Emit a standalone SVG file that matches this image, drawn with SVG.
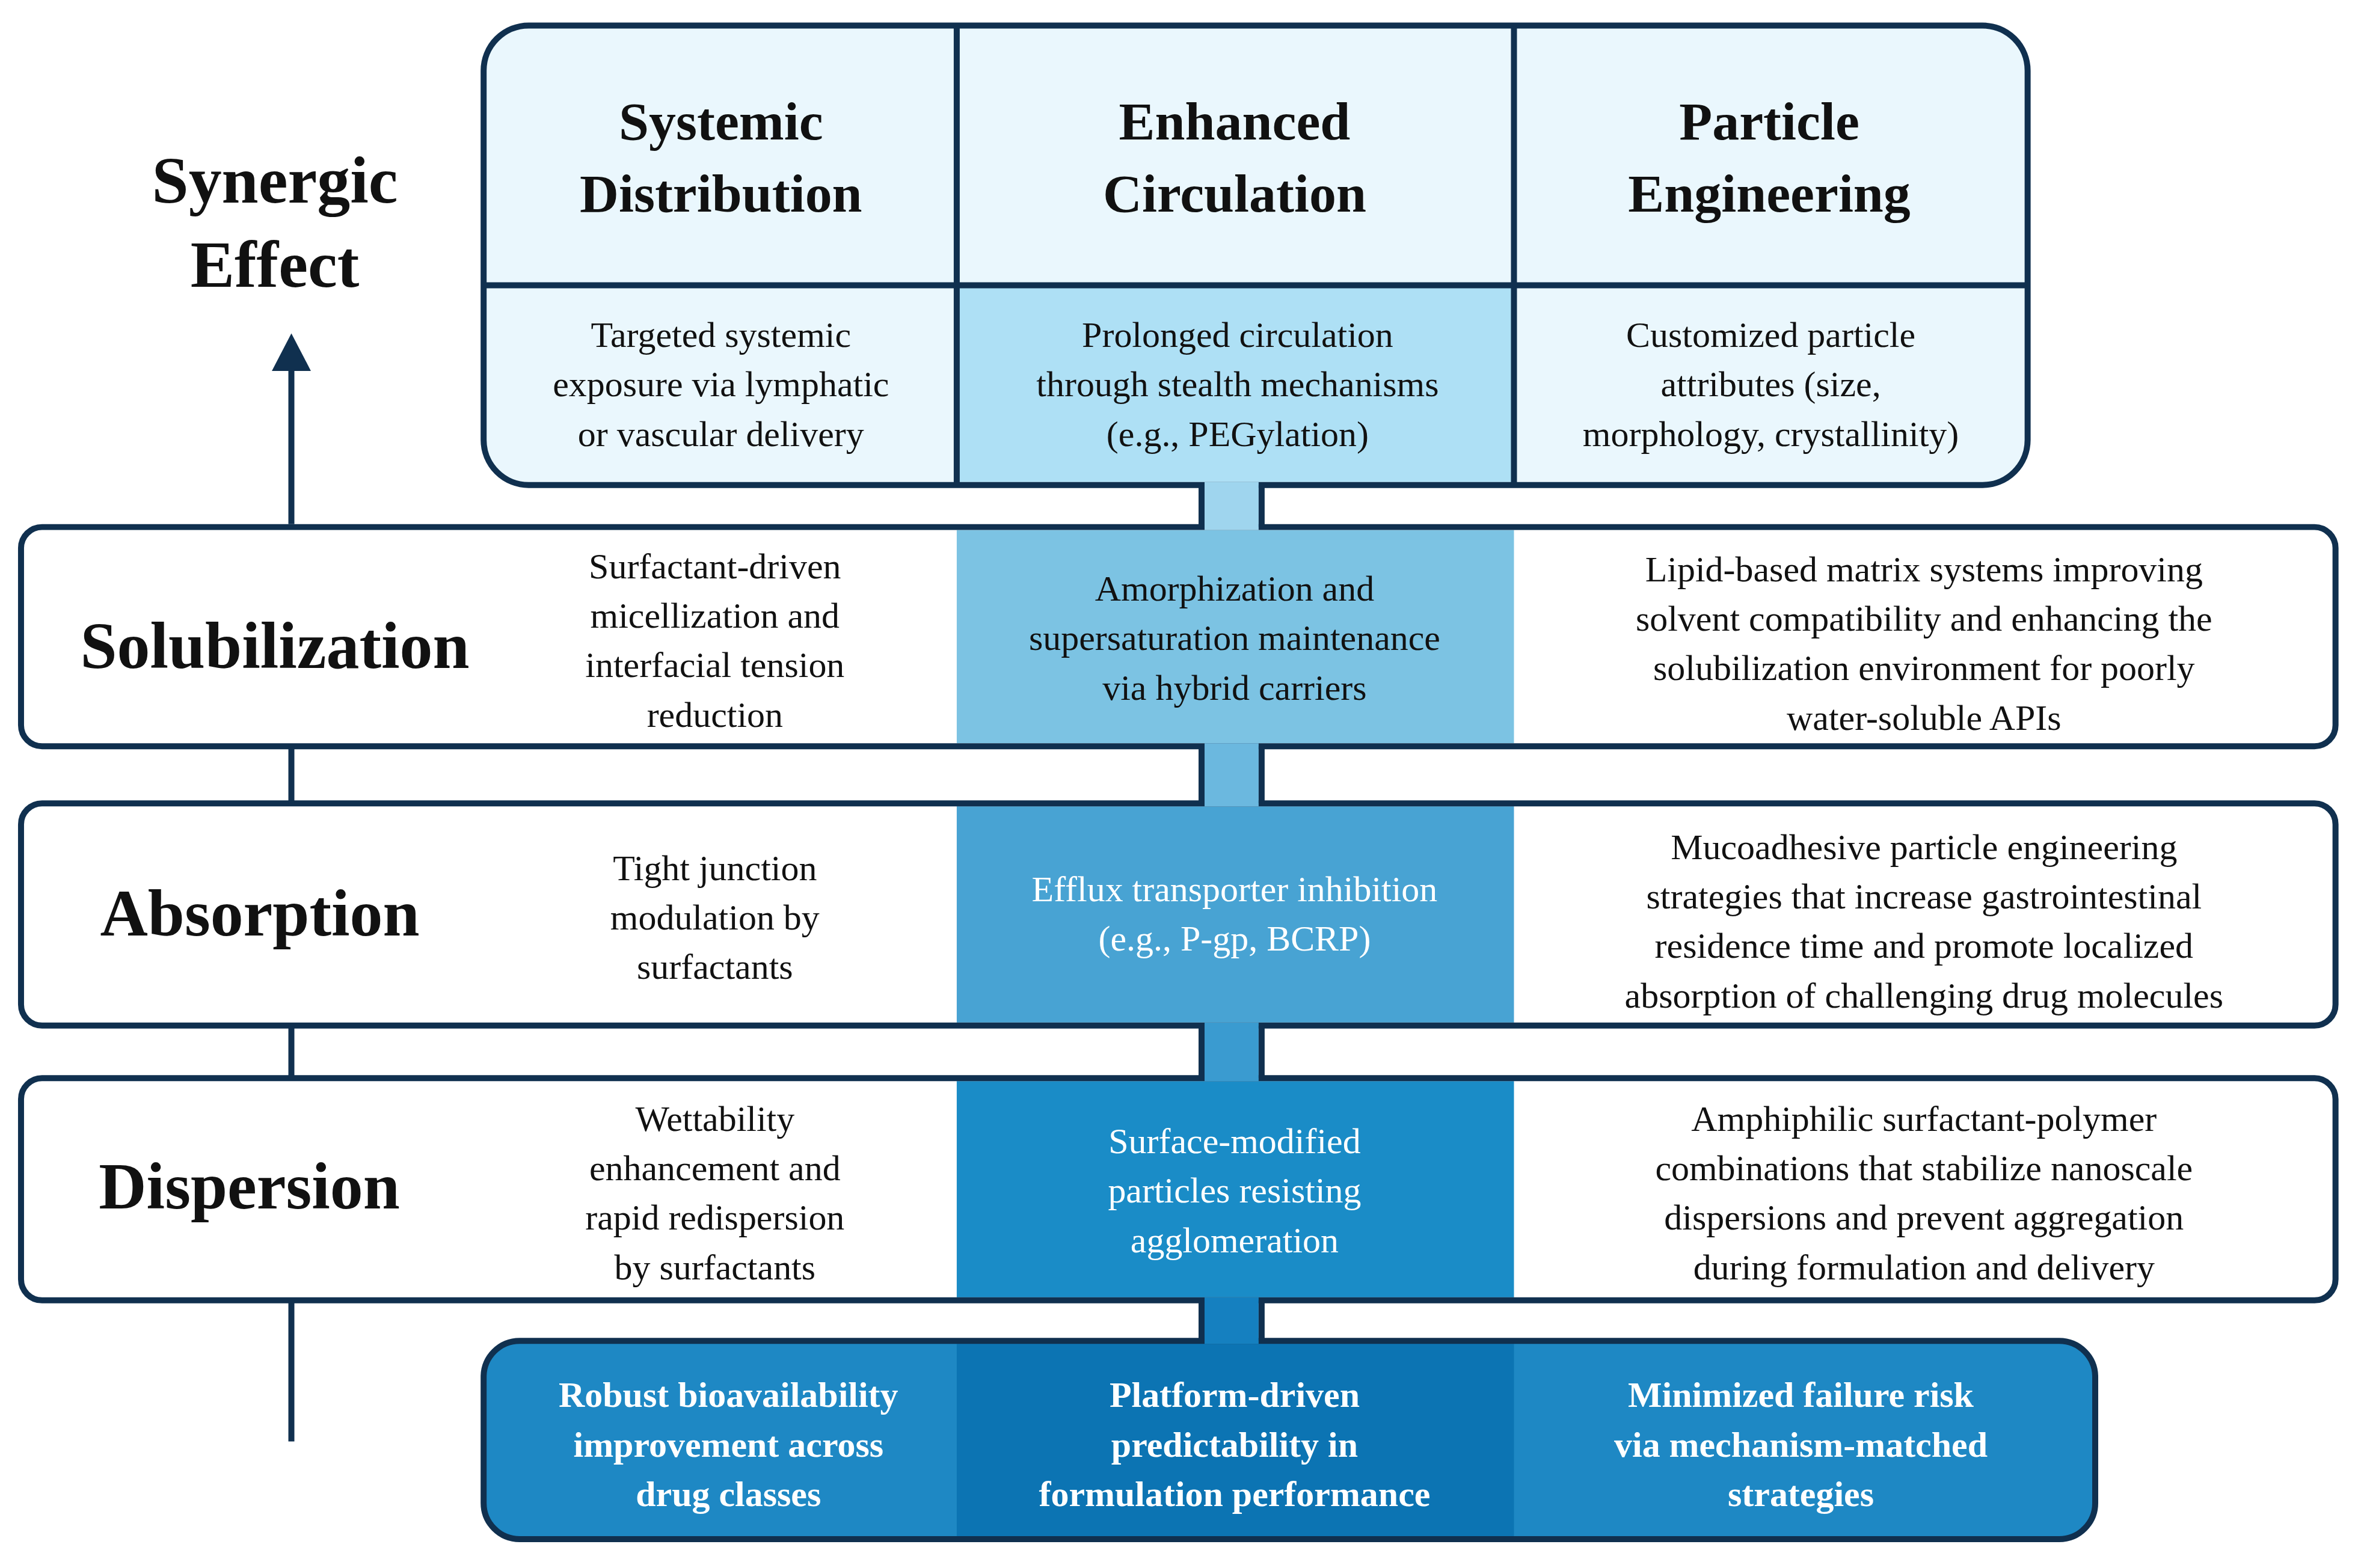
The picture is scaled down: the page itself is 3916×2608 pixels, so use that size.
<svg xmlns="http://www.w3.org/2000/svg" width="3916" height="2608" viewBox="0 0 3916 2608">
<style>
.t{font-family:"Liberation Serif","Times New Roman",serif;font-size:24px;text-anchor:middle;fill:#111}
.w{fill:#fff}
.b{font-weight:bold}
.h{font-family:"Liberation Serif",serif;font-size:36px;font-weight:bold;text-anchor:middle;fill:#111}
.L{font-family:"Liberation Serif",serif;font-size:44px;font-weight:bold;text-anchor:middle;fill:#111}
.bx{stroke:#10304f;stroke-width:4}
.ln{stroke:#10304f;stroke-width:4;fill:none}
</style>
<rect width="3916" height="2608" fill="#fff"/>
<g transform="scale(2.4975)">
<g id="top">
<rect x="322" y="17" width="1028" height="306" rx="30" fill="#eaf7fd"/>
<rect x="637" y="190" width="371" height="131" fill="#aee0f5"/>
<rect x="322" y="17" width="1028" height="306" rx="30" fill="none" class="bx"/>
<line x1="322" y1="190" x2="1350" y2="190" class="ln"/>
<line x1="637" y1="17" x2="637" y2="323" class="ln" stroke-width="3"/>
<line x1="1008" y1="17" x2="1008" y2="323" class="ln" stroke-width="3"/>
<text class="h" x="480" y="93">Systemic</text><text class="h" x="480" y="141">Distribution</text>
<text class="h" x="822" y="93">Enhanced</text><text class="h" x="822" y="141">Circulation</text>
<text class="h" x="1178" y="93">Particle</text><text class="h" x="1178" y="141">Engineering</text>
<text class="t" x="480" y="231">Targeted systemic</text><text class="t" x="480" y="264">exposure via lymphatic</text><text class="t" x="480" y="297">or vascular delivery</text>
<text class="t" x="824" y="231">Prolonged circulation</text><text class="t" x="824" y="264">through stealth mechanisms</text><text class="t" x="824" y="297">(e.g., PEGylation)</text>
<text class="t" x="1179" y="231">Customized particle</text><text class="t" x="1179" y="264">attributes (size,</text><text class="t" x="1179" y="297">morphology, crystallinity)</text>
</g>
<g id="synergic">
<text class="L" x="183" y="135">Synergic</text><text class="L" x="183" y="191">Effect</text>
</g>
<g id="solub">
<rect x="14" y="351" width="1541" height="146" rx="14" fill="#fff"/>
<rect x="637" y="353" width="371" height="142" fill="#7cc3e3"/>
<rect x="14" y="351" width="1541" height="146" rx="14" fill="none" class="bx"/>
<text class="L" x="183" y="445">Solubilization</text>
<text class="t" x="476" y="385">Surfactant-driven</text><text class="t" x="476" y="418">micellization and</text><text class="t" x="476" y="451">interfacial tension</text><text class="t" x="476" y="484">reduction</text>
<text class="t" x="822" y="400">Amorphization and</text><text class="t" x="822" y="433">supersaturation maintenance</text><text class="t" x="822" y="466">via hybrid carriers</text>
<text class="t" x="1281" y="387">Lipid-based matrix systems improving</text><text class="t" x="1281" y="420">solvent compatibility and enhancing the</text><text class="t" x="1281" y="453">solubilization environment for poorly</text><text class="t" x="1281" y="486">water-soluble APIs</text>
</g>
<g id="absorp">
<rect x="14" y="535" width="1541" height="148" rx="14" fill="#fff"/>
<rect x="637" y="537" width="371" height="144" fill="#48a3d3"/>
<rect x="14" y="535" width="1541" height="148" rx="14" fill="none" class="bx"/>
<text class="L" x="173" y="623">Absorption</text>
<text class="t" x="476" y="586">Tight junction</text><text class="t" x="476" y="619">modulation by</text><text class="t" x="476" y="652">surfactants</text>
<text class="t w" x="822" y="600">Efflux transporter inhibition</text><text class="t w" x="822" y="633">(e.g., P-gp, BCRP)</text>
<text class="t" x="1281" y="572">Mucoadhesive particle engineering</text><text class="t" x="1281" y="605">strategies that increase gastrointestinal</text><text class="t" x="1281" y="638">residence time and promote localized</text><text class="t" x="1281" y="671">absorption of challenging drug molecules</text>
</g>
<g id="disp">
<rect x="14" y="718" width="1541" height="148" rx="14" fill="#fff"/>
<rect x="637" y="720" width="371" height="144" fill="#1a8cc7"/>
<rect x="14" y="718" width="1541" height="148" rx="14" fill="none" class="bx"/>
<text class="L" x="166" y="805">Dispersion</text>
<text class="t" x="476" y="753">Wettability</text><text class="t" x="476" y="786">enhancement and</text><text class="t" x="476" y="819">rapid redispersion</text><text class="t" x="476" y="852">by surfactants</text>
<text class="t w" x="822" y="768">Surface-modified</text><text class="t w" x="822" y="801">particles resisting</text><text class="t w" x="822" y="834">agglomeration</text>
<text class="t" x="1281" y="753">Amphiphilic surfactant-polymer</text><text class="t" x="1281" y="786">combinations that stabilize nanoscale</text><text class="t" x="1281" y="819">dispersions and prevent aggregation</text><text class="t" x="1281" y="852">during formulation and delivery</text>
</g>
<g id="bottom">
<rect x="322" y="893" width="1073" height="132" rx="24" fill="#1e88c4"/>
<rect x="637" y="895" width="371" height="128" fill="#0c74b3"/>
<rect x="322" y="893" width="1073" height="132" rx="24" fill="none" class="bx"/>
<text class="t w b" x="485" y="937">Robust bioavailability</text><text class="t w b" x="485" y="970">improvement across</text><text class="t w b" x="485" y="1003">drug classes</text>
<text class="t w b" x="822" y="937">Platform-driven</text><text class="t w b" x="822" y="970">predictability in</text><text class="t w b" x="822" y="1003">formulation performance</text>
<text class="t w b" x="1199" y="937">Minimized failure risk</text><text class="t w b" x="1199" y="970">via mechanism-matched</text><text class="t w b" x="1199" y="1003">strategies</text>
</g>
<g id="connectors">
<rect x="802" y="321" width="36" height="32" fill="#9fd5ee"/>
<rect x="802" y="495" width="36" height="42" fill="#6bb8df"/>
<rect x="802" y="681" width="36" height="39" fill="#3a9bd0"/>
<rect x="802" y="864" width="36" height="31" fill="#1580c0"/>
<path class="ln" d="M800 323V351M840 323V351M800 497V535M840 497V535M800 683V718M840 683V718M800 866V893M840 866V893"/>
<path class="ln" d="M194 349V245M194 497V535M194 683V718M194 866V960"/>
<polygon points="194,222 181,247 207,247" fill="#10304f"/>
</g>
</g>
</svg>
